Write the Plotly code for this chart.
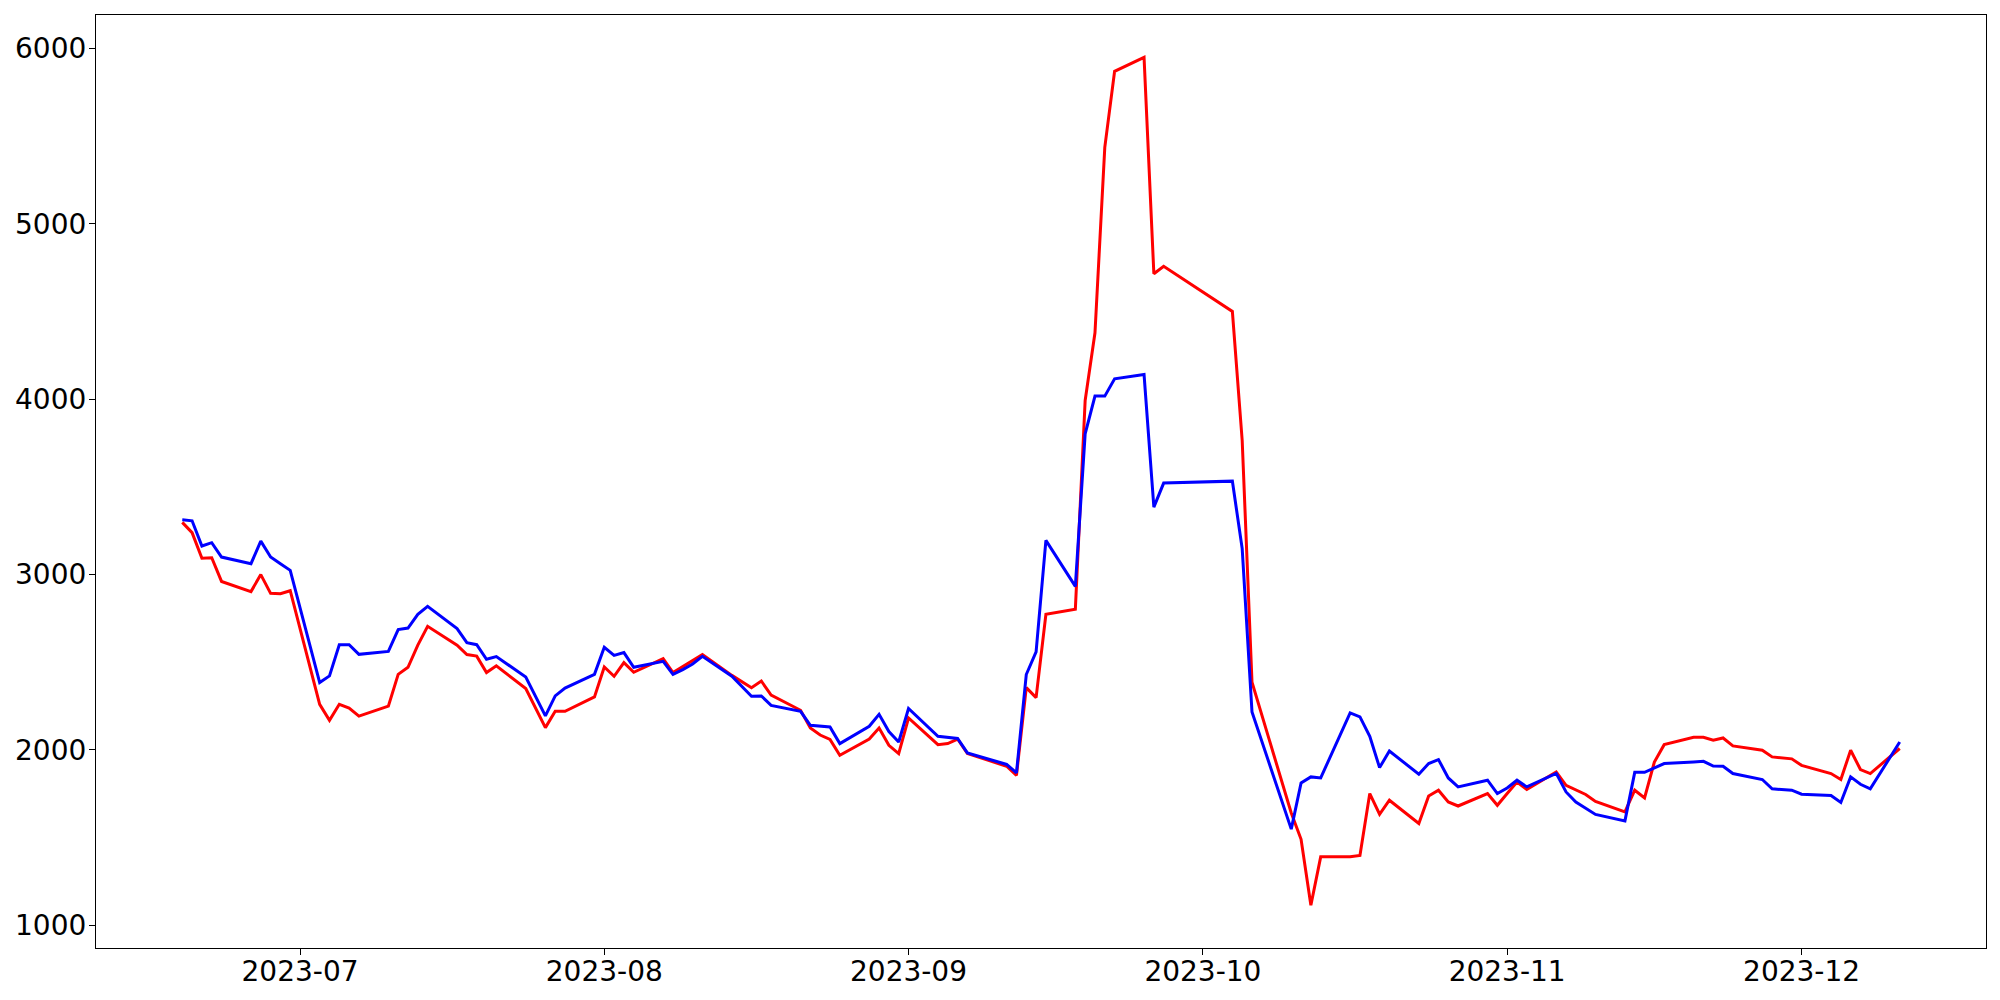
import plotly.graph_objects as go

dates = [
    "2023-06-19", "2023-06-20", "2023-06-21", "2023-06-22", "2023-06-23",
    "2023-06-26", "2023-06-27", "2023-06-28", "2023-06-29", "2023-06-30",
    "2023-07-03", "2023-07-04", "2023-07-05", "2023-07-06", "2023-07-07",
    "2023-07-10", "2023-07-11", "2023-07-12", "2023-07-13", "2023-07-14",
    "2023-07-17", "2023-07-18", "2023-07-19", "2023-07-20", "2023-07-21",
    "2023-07-24", "2023-07-26", "2023-07-27", "2023-07-28", "2023-07-31",
    "2023-08-01", "2023-08-02", "2023-08-03", "2023-08-04",
    "2023-08-07", "2023-08-08", "2023-08-09", "2023-08-10", "2023-08-11",
    "2023-08-14", "2023-08-16", "2023-08-17", "2023-08-18",
    "2023-08-21", "2023-08-22", "2023-08-23", "2023-08-24", "2023-08-25",
    "2023-08-28", "2023-08-29", "2023-08-30", "2023-08-31",
    "2023-09-01", "2023-09-04", "2023-09-05", "2023-09-06", "2023-09-07",
    "2023-09-11", "2023-09-12", "2023-09-13", "2023-09-14", "2023-09-15",
    "2023-09-18", "2023-09-19", "2023-09-20", "2023-09-21", "2023-09-22",
    "2023-09-25", "2023-09-26", "2023-09-27",
    "2023-10-04", "2023-10-05", "2023-10-06",
    "2023-10-10", "2023-10-11", "2023-10-12", "2023-10-13",
    "2023-10-16", "2023-10-17", "2023-10-18", "2023-10-19", "2023-10-20",
    "2023-10-23", "2023-10-24", "2023-10-25", "2023-10-26", "2023-10-27",
    "2023-10-30", "2023-10-31", "2023-11-01", "2023-11-02", "2023-11-03",
    "2023-11-06", "2023-11-07", "2023-11-08", "2023-11-09", "2023-11-10",
    "2023-11-13", "2023-11-14", "2023-11-15", "2023-11-16", "2023-11-17",
    "2023-11-20", "2023-11-21", "2023-11-22", "2023-11-23", "2023-11-24",
    "2023-11-27", "2023-11-28", "2023-11-30", "2023-12-01",
    "2023-12-04", "2023-12-05", "2023-12-06", "2023-12-07", "2023-12-08",
    "2023-12-11",
]

red_values = [
    3298, 3239, 3093, 3096, 2961,
    2903, 3000, 2893, 2891, 2908,
    2260, 2169, 2260, 2239, 2193,
    2250, 2431, 2471, 2598, 2705,
    2597, 2544, 2535, 2441, 2480,
    2350, 2127, 2220, 2220, 2302,
    2473, 2420, 2498, 2443,
    2521, 2441, 2475, 2510, 2544,
    2425, 2355, 2393, 2312,
    2226, 2125, 2085, 2060, 1969,
    2062, 2125, 2026, 1979,
    2182, 2030, 2036, 2062, 1979,
    1907, 1855, 2355, 2298, 2773,
    2802, 3993, 4379, 5437, 5871,
    5950, 4716, 4759,
    4501, 3765, 2386,
    1640, 1490, 1114, 1390,
    1390, 1398, 1751, 1633, 1713,
    1580, 1737, 1770, 1703, 1680,
    1751, 1684, 1751, 1817, 1774,
    1874, 1798, 1773, 1746, 1706,
    1646, 1770, 1726, 1931, 2030,
    2072, 2072, 2055, 2068, 2023,
    1998, 1960, 1949, 1912,
    1865, 1831, 1998, 1888, 1865,
    2008,
]

blue_values = [
    3313, 3307, 3163, 3182, 3100,
    3062, 3191, 3100, 3062, 3024,
    2384, 2422, 2600, 2600, 2545,
    2562, 2686, 2695, 2773, 2819,
    2692, 2612, 2600, 2517, 2532,
    2416, 2194, 2308, 2353, 2431,
    2585, 2539, 2555, 2471,
    2505, 2431, 2458, 2490, 2534,
    2420, 2306, 2308, 2254,
    2220, 2140, 2135, 2131, 2036,
    2135, 2203, 2105, 2045,
    2236, 2078, 2070, 2065, 1983,
    1917, 1869, 2430, 2559, 3195,
    2933, 3803, 4018, 4018, 4117,
    4141, 3385, 3522,
    3533, 3148, 2216,
    1548, 1812, 1846, 1840,
    2211, 2188, 2078, 1899, 1994,
    1861, 1922, 1945, 1840, 1789,
    1827, 1751, 1783, 1827, 1789,
    1866, 1760, 1703, 1668, 1632,
    1595, 1872, 1872, 1897, 1922,
    1931, 1935, 1908, 1907, 1865,
    1831, 1778, 1770, 1747,
    1740, 1700, 1846, 1804, 1778,
    2045,
]

y_ticks = [1000, 2000, 3000, 4000, 5000, 6000]
x_ticks = ["2023-07-01", "2023-08-01", "2023-09-01", "2023-10-01", "2023-11-01", "2023-12-01"]
x_tick_labels = ["2023-07", "2023-08", "2023-09", "2023-10", "2023-11", "2023-12"]

fig = go.Figure()
fig.add_trace(go.Scatter(x=dates, y=red_values, mode="lines",
                         line=dict(color="#ff0000", width=3), showlegend=False))
fig.add_trace(go.Scatter(x=dates, y=blue_values, mode="lines",
                         line=dict(color="#0000ff", width=3), showlegend=False))

axis_font = dict(family="DejaVu Sans", size=28, color="black")

fig.update_layout(
    width=2000, height=1000,
    paper_bgcolor="white", plot_bgcolor="white",
    margin=dict(l=88, r=22, t=7, b=60, pad=0),
    showlegend=False,
    xaxis=dict(
        type="date",
        automargin=False,
        range=["2023-06-10 05:00", "2023-12-19 19:00"],
        tickvals=x_ticks, ticktext=x_tick_labels,
        showgrid=False, zeroline=False,
        showline=True, linecolor="black", linewidth=1.2, mirror=True,
        ticks="outside", ticklen=6, tickwidth=1.2, tickcolor="black",
        tickfont=axis_font,
        ticklabelstandoff=-8,
    ),
    yaxis=dict(
        automargin=False,
        range=[870, 6192],
        tickvals=y_ticks,
        showgrid=False, zeroline=False,
        showline=True, linecolor="black", linewidth=1.2, mirror=True,
        ticks="outside", ticklen=6, tickwidth=1.2, tickcolor="black",
        tickfont=axis_font,
        ticklabelstandoff=-3,
    ),
)

fig.write_html("out.html")
